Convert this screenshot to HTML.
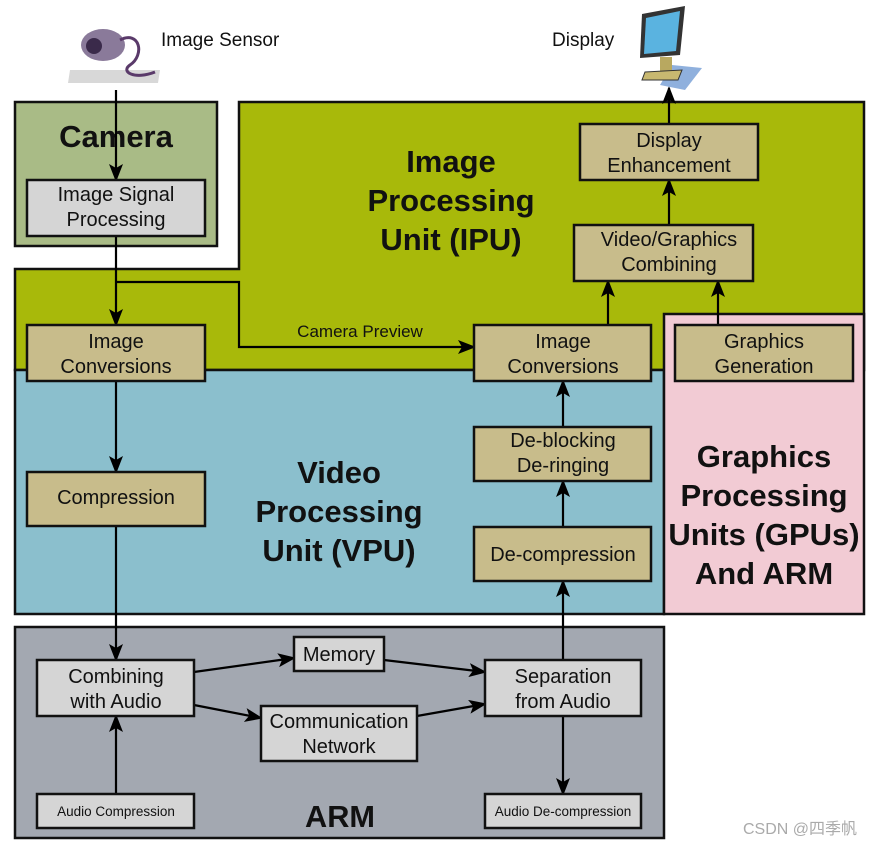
<!DOCTYPE html>
<html><head><meta charset="utf-8"><style>
html,body{margin:0;padding:0;background:#fff;}
svg{display:block;}
text{font-family:"Liberation Sans",sans-serif;fill:#111;}
.b{font-size:20px;text-anchor:middle;}
.h{font-size:31px;font-weight:bold;text-anchor:middle;}
</style></head><body>
<svg width="880" height="847" viewBox="0 0 880 847" xmlns="http://www.w3.org/2000/svg">
<defs>
<marker id="a" markerWidth="18" markerHeight="14" refX="16" refY="7" orient="auto" markerUnits="userSpaceOnUse" viewBox="0 0 18 14">
<path d="M0,0 L18,7 L0,14 L4,7 Z" fill="#000"/>
</marker>
</defs>
<rect x="15" y="102" width="202" height="144" fill="#a9bb86" stroke="#111" stroke-width="2.5"/>
<path d="M15,269 L239,269 L239,102 L864,102 L864,370 L15,370 Z" fill="#a8b90a" stroke="#111" stroke-width="2.5"/>
<rect x="15" y="370" width="649" height="244" fill="#8bbfcd" stroke="#111" stroke-width="2.5"/>
<rect x="664" y="314" width="200" height="300" fill="#f2cbd4" stroke="#111" stroke-width="2.5"/>
<rect x="15" y="627" width="649" height="211" fill="#a3a8b1" stroke="#111" stroke-width="2.5"/>

<text class="h" x="116" y="147">Camera</text>
<text class="h" x="451" y="172">Image</text>
<text class="h" x="451" y="211">Processing</text>
<text class="h" x="451" y="250">Unit (IPU)</text>
<text class="h" x="339" y="483">Video</text>
<text class="h" x="339" y="522">Processing</text>
<text class="h" x="339" y="561">Unit (VPU)</text>
<text class="h" x="764" y="467">Graphics</text>
<text class="h" x="764" y="506">Processing</text>
<text class="h" x="764" y="545">Units (GPUs)</text>
<text class="h" x="764" y="584">And ARM</text>
<text x="340" y="827" style="font-size:31px;font-weight:bold;text-anchor:middle" textLength="70" lengthAdjust="spacingAndGlyphs">ARM</text>

<g stroke="#000" stroke-width="2.2" fill="none">
<line x1="116" y1="90" x2="116" y2="180" marker-end="url(#a)"/>
<line x1="116" y1="236" x2="116" y2="325" marker-end="url(#a)"/>
<polyline points="116,282 239,282 239,347 474,347" marker-end="url(#a)"/>
<line x1="116" y1="381" x2="116" y2="472" marker-end="url(#a)"/>
<line x1="116" y1="526" x2="116" y2="660" marker-end="url(#a)"/>
<line x1="116" y1="794" x2="116" y2="716" marker-end="url(#a)"/>
<line x1="194" y1="672" x2="294" y2="658" marker-end="url(#a)"/>
<line x1="194" y1="705" x2="261" y2="718" marker-end="url(#a)"/>
<line x1="384" y1="660" x2="485" y2="672" marker-end="url(#a)"/>
<line x1="417" y1="716" x2="485" y2="704" marker-end="url(#a)"/>
<line x1="563" y1="716" x2="563" y2="794" marker-end="url(#a)"/>
<line x1="563" y1="660" x2="563" y2="581" marker-end="url(#a)"/>
<line x1="563" y1="527" x2="563" y2="481" marker-end="url(#a)"/>
<line x1="563" y1="427" x2="563" y2="381" marker-end="url(#a)"/>
<line x1="608" y1="325" x2="608" y2="281" marker-end="url(#a)"/>
<line x1="718" y1="325" x2="718" y2="281" marker-end="url(#a)"/>
<line x1="669" y1="225" x2="669" y2="180" marker-end="url(#a)"/>
<line x1="669" y1="124" x2="669" y2="88" marker-end="url(#a)"/>
</g>
<text x="360" y="337" style="font-size:17px;text-anchor:middle">Camera Preview</text>

<g stroke="#111" stroke-width="2.5">
<rect x="27" y="180" width="178" height="56" fill="#d5d5d5"/>
<rect x="27" y="325" width="178" height="56" fill="#c8bc8b"/>
<rect x="27" y="472" width="178" height="54" fill="#c8bc8b"/>
<rect x="474" y="325" width="177" height="56" fill="#c8bc8b"/>
<rect x="474" y="427" width="177" height="54" fill="#c8bc8b"/>
<rect x="474" y="527" width="177" height="54" fill="#c8bc8b"/>
<rect x="580" y="124" width="178" height="56" fill="#c8bc8b"/>
<rect x="574" y="225" width="179" height="56" fill="#c8bc8b"/>
<rect x="675" y="325" width="178" height="56" fill="#c8bc8b"/>
<rect x="37" y="660" width="157" height="56" fill="#d5d5d5"/>
<rect x="294" y="637" width="90" height="34" fill="#d5d5d5"/>
<rect x="261" y="706" width="156" height="55" fill="#d5d5d5"/>
<rect x="485" y="660" width="156" height="56" fill="#d5d5d5"/>
<rect x="37" y="794" width="157" height="34" fill="#d5d5d5"/>
<rect x="485" y="794" width="156" height="34" fill="#d5d5d5"/>
</g>
<text class="b" x="116" y="201">Image Signal</text><text class="b" x="116" y="226">Processing</text>
<text class="b" x="116" y="348">Image</text><text class="b" x="116" y="373">Conversions</text>
<text class="b" x="116" y="504">Compression</text>
<text class="b" x="563" y="348">Image</text><text class="b" x="563" y="373">Conversions</text>
<text class="b" x="563" y="447">De-blocking</text><text class="b" x="563" y="472">De-ringing</text>
<text class="b" x="563" y="561">De-compression</text>
<text class="b" x="669" y="147">Display</text><text class="b" x="669" y="172">Enhancement</text>
<text class="b" x="669" y="246">Video/Graphics</text><text class="b" x="669" y="271">Combining</text>
<text class="b" x="764" y="348">Graphics</text><text class="b" x="764" y="373">Generation</text>
<text class="b" x="116" y="683">Combining</text><text class="b" x="116" y="708">with Audio</text>
<text class="b" x="339" y="661">Memory</text>
<text class="b" x="339" y="728">Communication</text><text class="b" x="339" y="753">Network</text>
<text class="b" x="563" y="683">Separation</text><text class="b" x="563" y="708">from Audio</text>
<text x="116" y="816" style="font-size:13.5px;text-anchor:middle">Audio Compression</text>
<text x="563" y="816" style="font-size:13.5px;text-anchor:middle">Audio De-compression</text>

<g>
<polygon points="70,70 160,70 158,83 68,83" fill="#d8d8d8"/>
<ellipse cx="103" cy="45" rx="22" ry="16" fill="#8a7a9a"/>
<circle cx="94" cy="46" r="8" fill="#3a2a4a"/>
<path d="M120,40 C140,30 145,55 130,65 C120,72 135,80 155,72" stroke="#5a3a6a" stroke-width="3" fill="none"/>
</g>
<text x="161" y="46" style="font-size:19px">Image Sensor</text>
<text x="552" y="46" style="font-size:19px">Display</text>
<g>
<polygon points="672,65 702,68 685,90 660,85" fill="#8fb0dd"/>
<polygon points="642,14 685,6 680,55 640,58" fill="#333"/>
<polygon points="646,18 680,11 676,51 644,54" fill="#5ab3e0"/>
<rect x="660" y="57" width="12" height="14" fill="#b8a860"/>
<polygon points="645,72 682,70 678,80 642,80" fill="#c8b870" stroke="#333" stroke-width="1"/>
</g>
<text x="800" y="834" style="font-family:'Liberation Sans','Noto Sans CJK SC',sans-serif;font-size:16px;fill:#aaa;text-anchor:middle">CSDN @四季帆</text>
</svg>
</body></html>
